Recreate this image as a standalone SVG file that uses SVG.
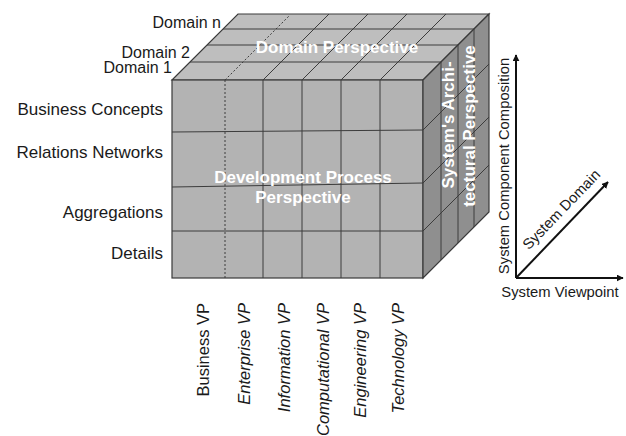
<svg xmlns="http://www.w3.org/2000/svg" width="626" height="436" viewBox="0 0 626 436">
  <defs>
    <marker id="arr" viewBox="0 0 10 10" refX="9" refY="5" markerWidth="7" markerHeight="7" markerUnits="userSpaceOnUse" orient="auto">
      <path d="M0,0 L10,5 L0,10 z" fill="#111"/>
    </marker>
    <style>
      .lbl { font-family: "Liberation Sans", Arial, sans-serif; fill: #1a1a1a; }
      .persp { font-family: "Liberation Sans", Arial, sans-serif; font-weight: bold; fill: #ffffff; font-size: 17px; }
      .grid { stroke: #3c3c3c; stroke-width: 1; fill: none; }
      .dot { stroke: #3c3c3c; stroke-width: 1; stroke-dasharray: 2 2; fill: none; }
      .edge { stroke: #3a3a3a; stroke-width: 1.2; }
      .axis { stroke: #111; stroke-width: 2; fill: none; marker-end: url(#arr); }
    </style>
  </defs>
  <rect width="626" height="436" fill="#ffffff"/>

  <g id="cube">
    <polygon class="edge" points="172,80 238,14 489,14 423,80" fill="#bebebe"/>
    <rect class="edge" x="172" y="80" width="251" height="198" fill="#b3b3b3"/>
    <polygon class="edge" points="423,80 489,14 489,212 423,278" fill="#8f8f8f"/>
    <!-- top face grid -->
    <line class="grid" x1="190" y1="62" x2="441" y2="62"/>
    <line class="grid" x1="207" y1="45" x2="458" y2="45"/>
    <line class="grid" x1="223" y1="29" x2="474" y2="29"/>
    <line class="dot" x1="225" y1="80" x2="289" y2="16"/>
    <line class="grid" x1="263" y1="80" x2="329" y2="14"/>
    <line class="grid" x1="302" y1="80" x2="368" y2="14"/>
    <line class="grid" x1="341" y1="80" x2="407" y2="14"/>
    <line class="grid" x1="380" y1="80" x2="446" y2="14"/>
    <!-- front face grid -->
    <line class="dot" x1="225" y1="80" x2="225" y2="278"/>
    <line class="grid" x1="263" y1="80" x2="263" y2="278"/>
    <line class="grid" x1="302" y1="80" x2="302" y2="278"/>
    <line class="grid" x1="341" y1="80" x2="341" y2="278"/>
    <line class="grid" x1="380" y1="80" x2="380" y2="278"/>
    <line class="grid" x1="172" y1="132" x2="423" y2="130"/>
    <line class="grid" x1="172" y1="187" x2="423" y2="183"/>
    <line class="grid" x1="172" y1="231" x2="423" y2="231"/>
    <!-- right face grid -->
    <line class="grid" x1="441" y1="62" x2="441" y2="260"/>
    <line class="grid" x1="458" y1="45" x2="458" y2="243"/>
    <line class="grid" x1="474" y1="29" x2="474" y2="227"/>
    <line class="grid" x1="423" y1="130" x2="489" y2="64"/>
    <line class="grid" x1="423" y1="183" x2="489" y2="117"/>
    <line class="grid" x1="423" y1="231" x2="489" y2="165"/>
  </g>

  <g id="domain-perspective">
    <text class="persp" x="337" y="53" text-anchor="middle">Domain Perspective</text>
  </g>
  <g id="development-process-perspective">
    <text class="persp" x="303" y="183" text-anchor="middle">Development Process</text>
    <text class="persp" x="303" y="203" text-anchor="middle">Perspective</text>
  </g>
  <g id="architectural-perspective">
    <text class="persp" transform="translate(454,125) rotate(-90)" text-anchor="middle">System's Archi-</text>
    <text class="persp" transform="translate(475,126) rotate(-90)" text-anchor="middle">tectural Perspective</text>
  </g>

  <g id="domain-labels" class="lbl" font-size="16" text-anchor="end">
    <text x="221" y="28">Domain n</text>
    <text x="190" y="58">Domain 2</text>
    <text x="172" y="73">Domain 1</text>
  </g>

  <g id="row-labels" class="lbl" font-size="17" text-anchor="end">
    <text x="163" y="115">Business Concepts</text>
    <text x="163" y="158">Relations Networks</text>
    <text x="163" y="218">Aggregations</text>
    <text x="163" y="259">Details</text>
  </g>

  <g id="viewpoint-labels" class="lbl" font-size="16.5" text-anchor="end">
    <text transform="translate(209,303) rotate(-90)">Business VP</text>
    <text transform="translate(250,303) rotate(-90)" font-style="italic">Enterprise VP</text>
    <text transform="translate(290,303) rotate(-90)" font-style="italic">Information VP</text>
    <text transform="translate(329,303) rotate(-90)" font-style="italic">Computational VP</text>
    <text transform="translate(366,303) rotate(-90)" font-style="italic">Engineering VP</text>
    <text transform="translate(404,303) rotate(-90)" font-style="italic">Technology VP</text>
  </g>

  <g id="connectors">
    <line class="axis" x1="516" y1="278" x2="516" y2="55"/>
    <line class="axis" x1="516" y1="278" x2="623" y2="278"/>
    <line class="axis" x1="516" y1="278" x2="608" y2="182"/>
  </g>

  <g id="axis-labels" class="lbl" font-size="14.8">
    <text x="560" y="297" text-anchor="middle">System Viewpoint</text>
    <text transform="translate(509,166) rotate(-90)" text-anchor="middle">System Component  Composition</text>
    <text transform="translate(565,213) rotate(-46)" text-anchor="middle">System Domain</text>
  </g>
</svg>
